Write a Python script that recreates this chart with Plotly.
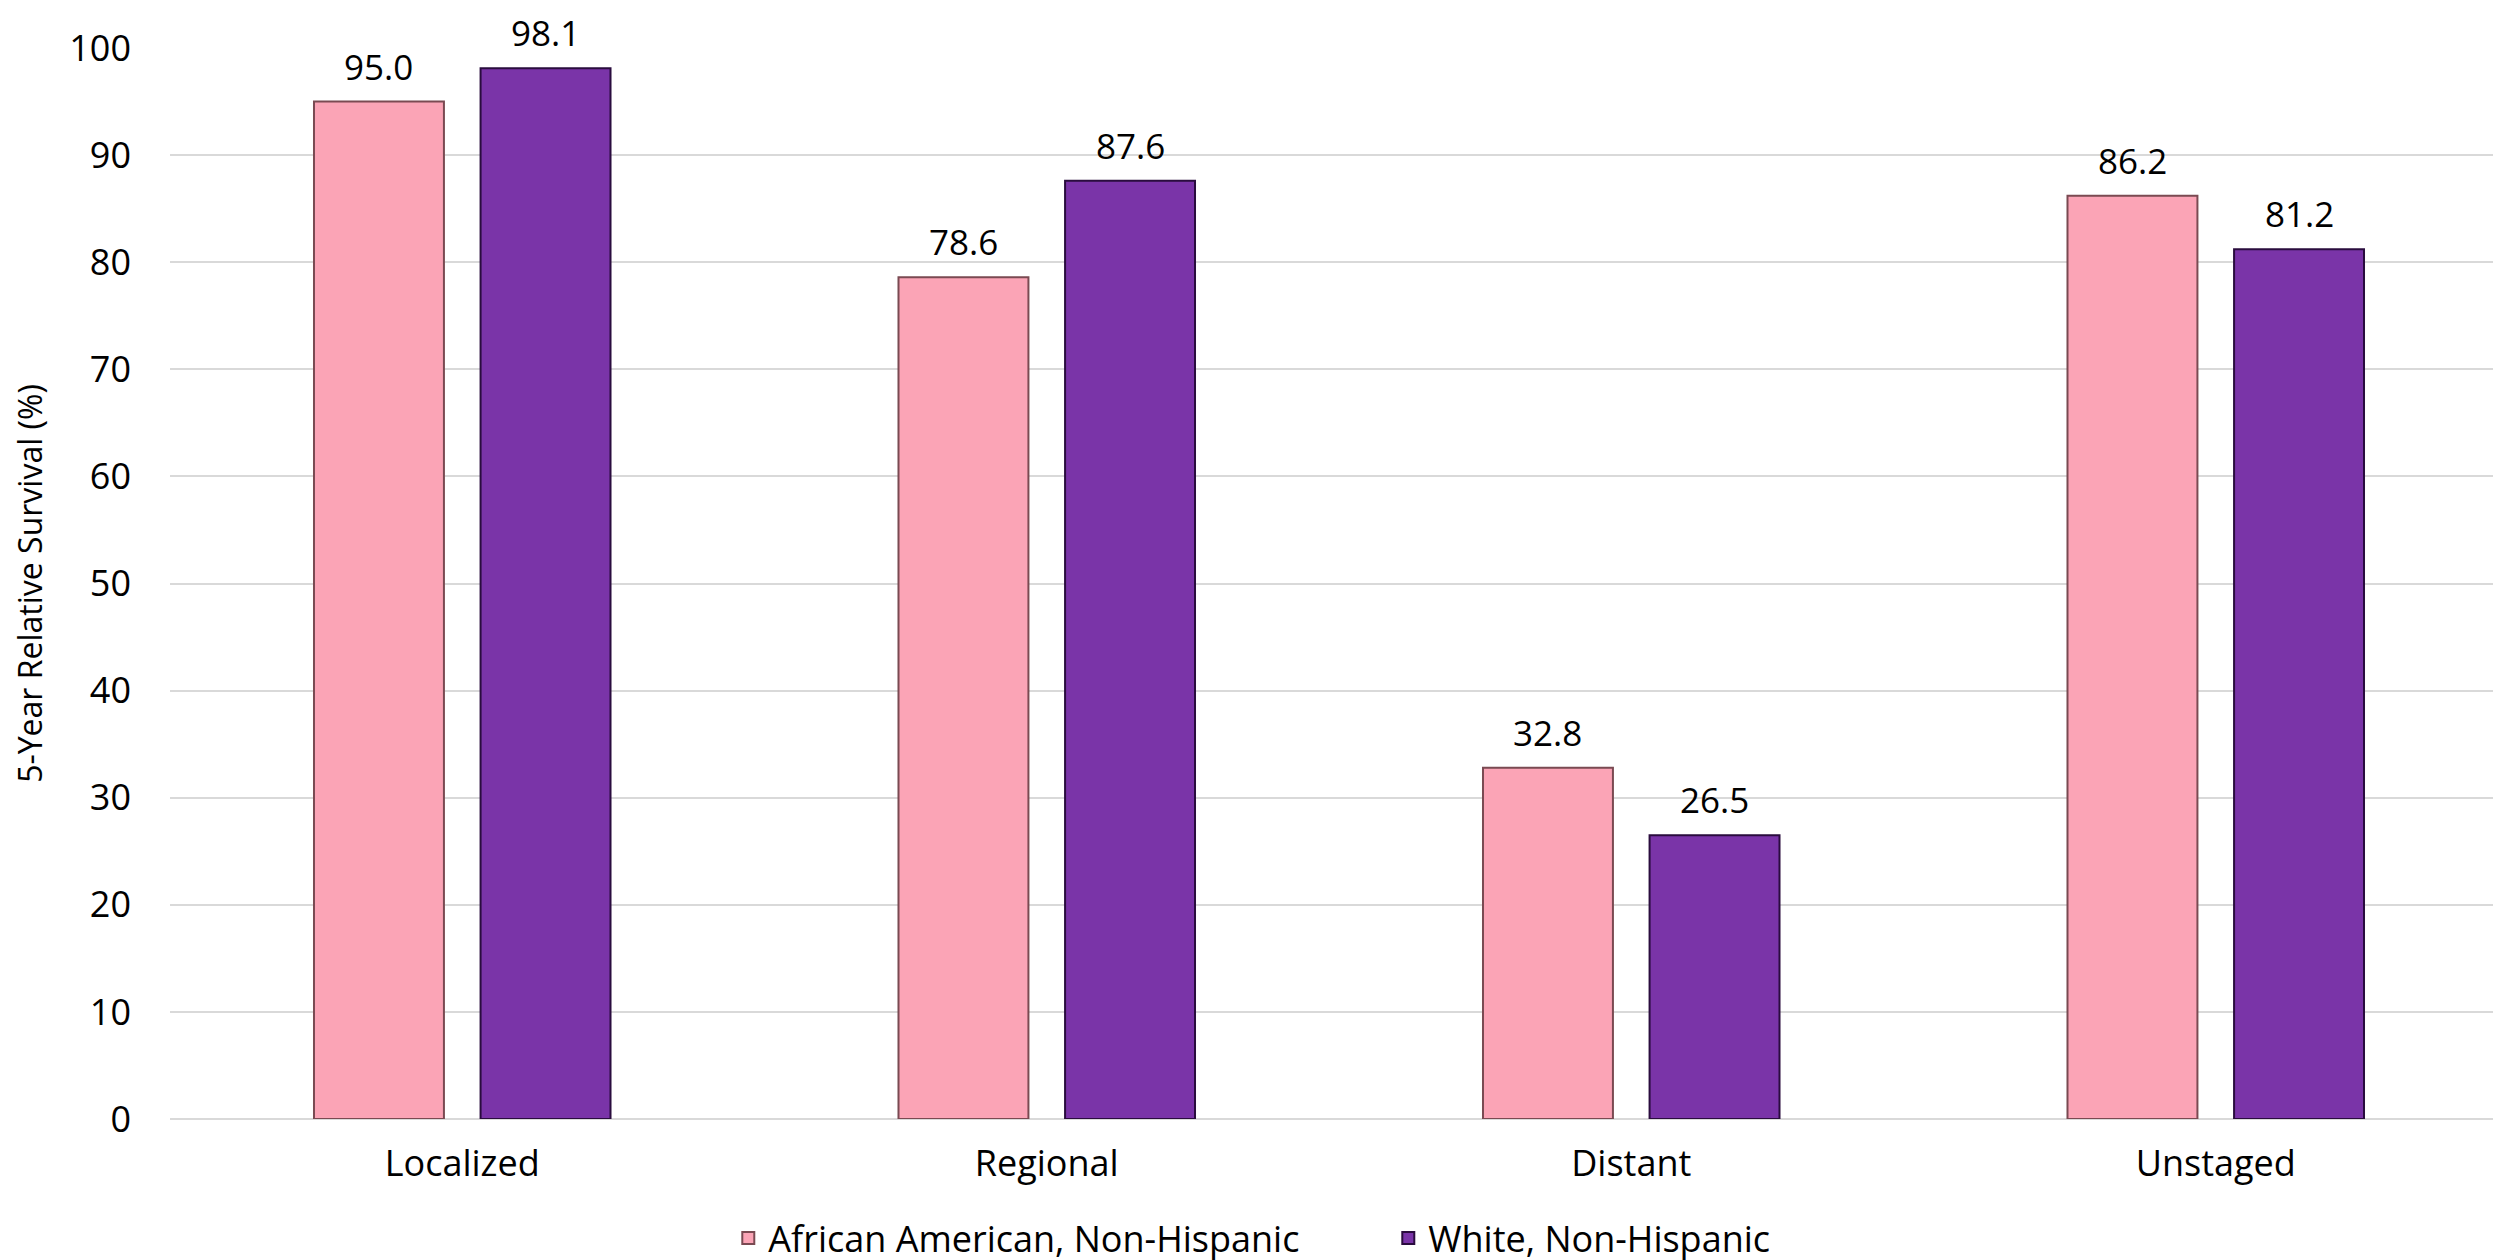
import plotly.graph_objects as go

stages = ["Localized", "Regional", "Distant", "Unstaged"]
african_american = [95.0, 78.6, 32.8, 86.2]
white = [98.1, 87.6, 26.5, 81.2]
y_ticks = list(range(0, 101, 10))

FONT = "Open Sans"
PINK = "#FBA4B6"
PURPLE = "#7A34A8"

# bar geometry (px) used to put the value labels over the right bar
PLOT_LEFT, PLOT_RIGHT = 162, 2500
BARGAP, GROUPGAP = 0.43, 0.22
cat_px = (PLOT_RIGHT - PLOT_LEFT) / len(stages)
slot_px = cat_px * (1 - BARGAP) / 2

fig = go.Figure()
series = [
    ("African American, Non-Hispanic", african_american, PINK, "#7a4a52", -1),
    ("White, Non-Hispanic", white, PURPLE, "#2a0c3e", 1),
]
for name, values, color, edge, side in series:
    fig.add_trace(
        go.Bar(
            x=stages,
            y=values,
            name=name,
            marker=dict(color=color, line=dict(color=edge, width=2)),
            hoverinfo="x+y+name",
        )
    )
    for stage, v in zip(stages, values):
        fig.add_annotation(
            x=stage,
            y=v,
            text=f"{v:.1f}",
            showarrow=False,
            xanchor="center",
            yanchor="bottom",
            xshift=side * slot_px / 2,
            yshift=11,
            borderpad=0,
            font=dict(family=FONT, size=35, color="#000000"),
        )

fig.update_layout(
    width=2501,
    height=1260,
    template="plotly_white",
    barmode="group",
    bargap=BARGAP,
    bargroupgap=GROUPGAP,
    font=dict(family=FONT, size=36, color="#000000"),
    margin=dict(l=PLOT_LEFT, r=2501 - PLOT_RIGHT, t=40, b=149),
    plot_bgcolor="white",
    paper_bgcolor="white",
    legend=dict(
        orientation="h",
        xref="container",
        yref="container",
        x=0.288,
        xanchor="left",
        y=0.0,
        yanchor="bottom",
        font=dict(family=FONT, size=36),
        entrywidth=615,
        itemsizing="constant",
    ),
)
fig.update_yaxes(
    range=[0, 100],
    tickvals=y_ticks,
    showgrid=True,
    gridcolor="#d9d9d9",
    gridwidth=2,
    zeroline=True,
    zerolinecolor="#d9d9d9",
    zerolinewidth=2,
    automargin=False,
    ticklabelstandoff=38,
    tickfont=dict(family=FONT, size=36),
    title=dict(text="5-Year Relative Survival (%)", font=dict(family=FONT, size=32), standoff=28),
)
fig.update_xaxes(
    showgrid=False,
    automargin=False,
    tickfont=dict(family=FONT, size=36),
    ticklabelstandoff=20,
)

fig.write_html("out.html")
